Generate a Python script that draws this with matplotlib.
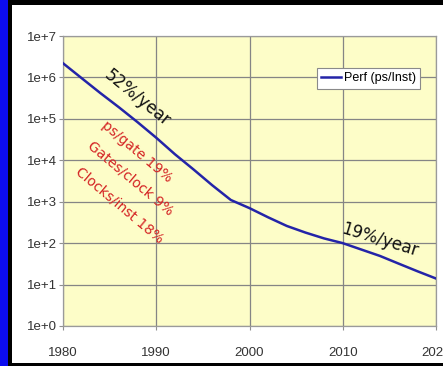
import numpy as np
import matplotlib.pyplot as plt
from matplotlib.patches import Rectangle

years = [1980, 1982, 1984, 1986, 1988, 1990, 1992, 1994, 1996, 1998,
         2000, 2002, 2004, 2006, 2008, 2010, 2012, 2014, 2016, 2018, 2020]
perf = [2.2e6, 9.6e5, 4.2e5, 1.9e5, 8.3e4, 3.5e4, 1.4e4, 6.0e3, 2.5e3, 1.1e3,
        700, 420, 260, 180, 130, 100, 70, 49, 32, 21, 14]

xticks = [1980, 1990, 2000, 2010, 2020]
yticks = [1e0, 1e1, 1e2, 1e3, 1e4, 1e5, 1e6, 1e7]
ylabels = ['1e+0', '1e+1', '1e+2', '1e+3', '1e+4', '1e+5', '1e+6', '1e+7']

tick_font = ['Liberation Sans Narrow', 'Liberation Sans', 'DejaVu Sans']

W, H = 443, 366
fig = plt.figure(figsize=(W / 100, H / 100), dpi=100, facecolor='black')

# slide frame: blue strip on the left, white panel behind the chart
fig.patches.append(Rectangle((0, 0), 8 / W, 1, transform=fig.transFigure,
                             facecolor='#0c0cf0', edgecolor='none', zorder=-5))
fig.patches.append(Rectangle((12 / W, 3 / H), 1, (361 - 3) / H,
                             transform=fig.transFigure,
                             facecolor='white', edgecolor='none', zorder=-5))

ax = fig.add_axes([63 / W, 40 / H, 373 / W, 290 / H])
ax.set_zorder(2)
ax.set_facecolor('#fdfdc8')

ax.plot(years, perf, color='#2424a8', lw=1.8, label='Perf (ps/Inst)', zorder=3)

ax.set_yscale('log')
ax.set_xlim(1980, 2020)
ax.set_ylim(1, 1e7)
ax.set_xticks(xticks)
ax.set_xticklabels([str(x) for x in xticks], fontfamily=tick_font, fontsize=9.5)
ax.set_yticks(yticks)
ax.set_yticklabels(ylabels, fontfamily=tick_font, fontsize=9.5)
ax.minorticks_off()
ax.tick_params(axis='y', length=3, pad=1.5, color='#909090', labelcolor='#333333')
ax.tick_params(axis='x', length=3, pad=12, color='#909090', labelcolor='#333333')

ax.grid(True, color='#858585', lw=0.9)
ax.set_axisbelow(True)
for s in ax.spines.values():
    s.set_color('#9a9a9a')
    s.set_linewidth(0.9)

leg = ax.legend(loc='upper right', bbox_to_anchor=(0.957, 0.89), fancybox=False,
                framealpha=1, edgecolor='#8a8a8a', handlelength=1.6,
                handletextpad=0.2, borderpad=0.35, borderaxespad=0,
                prop={'family': tick_font, 'size': 9})
leg.get_frame().set_linewidth(0.8)

# growth-rate annotations
ax.text(1988.0, 3.2e5, '52%/year', rotation=-39, rotation_mode='anchor',
        ha='center', va='center', fontsize=12, color='#111111')
ax.text(2014.0, 120, '19%/year', rotation=-17, rotation_mode='anchor',
        ha='center', va='center', fontsize=12, color='#111111')
red = '#d42424'
ax.text(1987.9, 1.6e4, 'ps/gate 19%', rotation=-40, rotation_mode='anchor',
        ha='center', va='center', fontsize=10, color=red)
ax.text(1987.3, 3.7e3, 'Gates/clock 9%', rotation=-40, rotation_mode='anchor',
        ha='center', va='center', fontsize=10, color=red)
ax.text(1986.1, 830, 'Clocks/inst 18%', rotation=-40, rotation_mode='anchor',
        ha='center', va='center', fontsize=10, color=red)

fig.savefig('out.png', dpi=100, facecolor=fig.get_facecolor())
